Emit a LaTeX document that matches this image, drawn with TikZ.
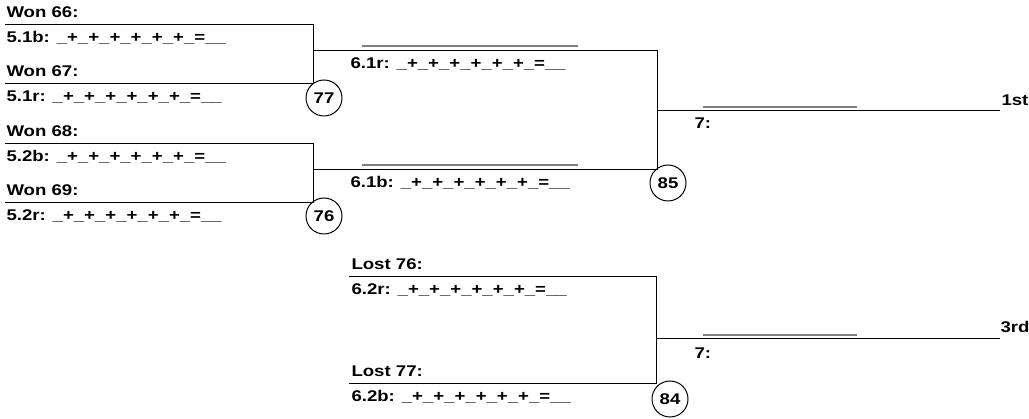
\documentclass[tikz,border=0pt]{standalone}
\usepackage{fontspec}
\setmainfont{Liberation Sans}[FakeStretch=1.2]
\newcommand{\tally}{\_+\_+\_+\_+\_+\_+\_=\_\_}
\begin{document}
\begin{tikzpicture}[x=1pt,y=-1pt,line width=1pt,
  font=\fontsize{15.5}{18}\selectfont\bfseries,
  lbl/.style={anchor=base west,inner sep=0pt},
  game/.style={circle,draw,minimum size=36pt,inner sep=0pt},
  blank/.style={draw=gray,line width=1.6pt}]
\useasboundingbox (0,0) rectangle (1029,419);

% round 5
\node[lbl] (w66) at (6,18) {Won 66:};
\node[lbl] (s51b) at (6,43) {5.1b: \tally};
\node[lbl] (w67) at (6,77) {Won 67:};
\node[lbl] (s51r) at (6,102) {5.1r: \tally};
\node[lbl] (w68) at (6,137) {Won 68:};
\node[lbl] (s52b) at (6,162) {5.2b: \tally};
\node[lbl] (w69) at (6,196) {Won 69:};
\node[lbl] (s52r) at (6,221) {5.2r: \tally};
\draw (5,25) -- (313,25) -- (313,84) -- (5,84);
\draw (5,144) -- (313,144) -- (313,203) -- (5,203);
\node[game] (g77) at (324,98) {77};
\node[game] (g76) at (324,216) {76};

% round 6
\draw (313,51) -- (657,51) -- (657,170) -- (313,170);
\draw[blank] (362,46) -- (578,46);
\draw[blank] (362,165) -- (578,165);
\node[lbl] (s61r) at (350,69) {6.1r: \tally};
\node[lbl] (s61b) at (350,188) {6.1b: \tally};
\node[game] (g85) at (668,183) {85};

\node[lbl] (l76) at (351,270) {Lost 76:};
\node[lbl] (s62r) at (351,295) {6.2r: \tally};
\node[lbl] (l77) at (351,377) {Lost 77:};
\node[lbl] (s62b) at (351,402) {6.2b: \tally};
\draw (349,277) -- (656,277) -- (656,384) -- (349,384);
\node[game] (g84) at (670,399) {84};

% round 7
\draw (657,111) -- (1000,111);
\draw[blank] (703,107) -- (857,107);
\node[lbl] (f1) at (694,129) {7:};
\node[lbl] (first) at (1001,106) {1st};
\draw (656,339) -- (1000,339);
\draw[blank] (703,335) -- (857,335);
\node[lbl] (f3) at (694,359) {7:};
\node[lbl] (third) at (1000,333) {3rd};
\end{tikzpicture}
\end{document}
